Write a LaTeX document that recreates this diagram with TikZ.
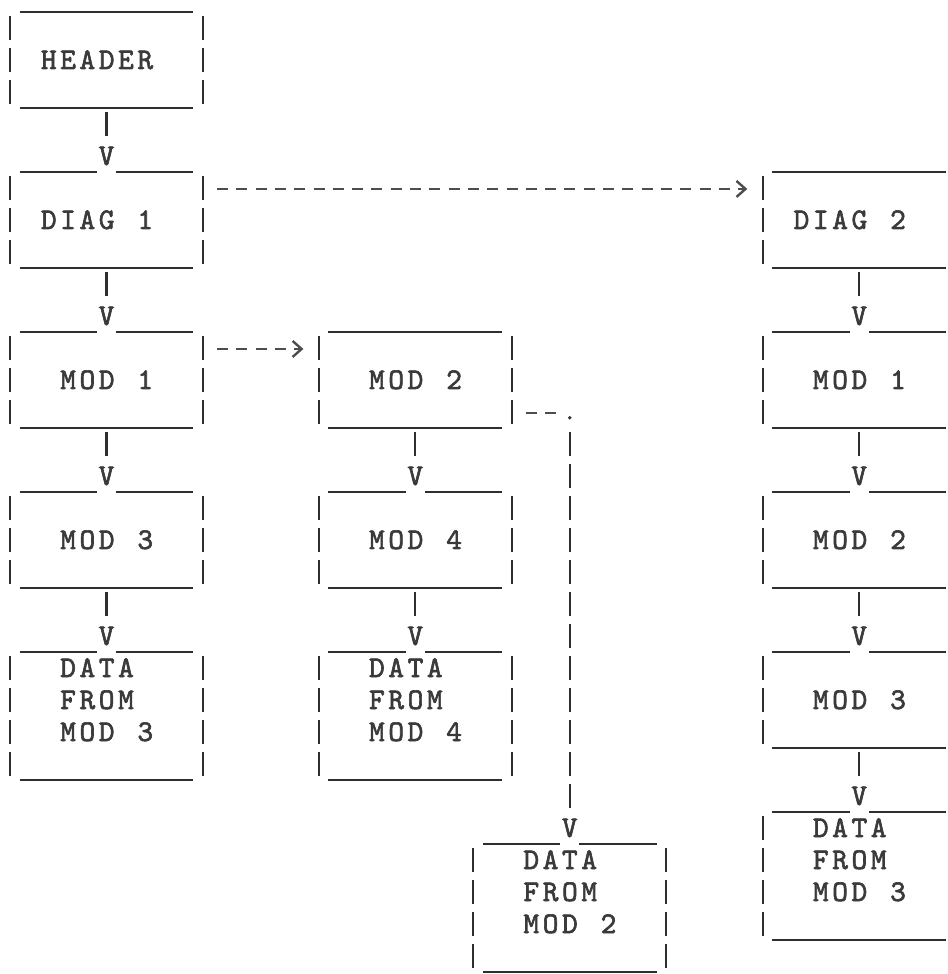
\documentclass[tikz,border=0pt]{standalone}
\usepackage{fontspec}
\newfontfamily\twf{lmmono10-regular.otf}[FakeBold=2]
\usetikzlibrary{arrows.meta}
\definecolor{ink}{HTML}{2E2E2E}
\definecolor{txtink}{HTML}{3A3A3A}
\newlength\twpitch \setlength\twpitch{19.3pt}
\makeatletter
\newcommand\twstr[1]{\twloop#1\@nil}
\def\twloop#1{\ifx#1\@nil\else\makebox[\twpitch][c]{#1}\expandafter\twloop\fi}
\makeatother
\tikzset{
  uline/.style={draw=ink, line width=2.4pt},
  vbar/.style={draw=ink, line width=2.2pt},
  twt/.style={inner sep=0pt, anchor=base west, text=txtink, font=\twf\fontsize{30}{32}\selectfont},
  twv/.style={inner sep=0pt, anchor=base, text=txtink, font=\twf\fontsize{30}{32}\selectfont},
  hdash/.style={draw=ink!85, line width=2.4pt, dash pattern=on 11pt off 8.3pt},
  vdash/.style={draw=ink, line width=2.2pt, dash pattern=on 24pt off 8pt},
  chev/.style={-{Straight Barb[length=9pt,width=16pt]}},
  vconn/.style={vbar, shorten <=4pt, shorten >=10.7pt}
}
% #1 name, #2 left col, #3 right col, #4 top line, #5 bar lines, #6 gap col (0 = none)
\newcommand\twbox[6]{%
  \coordinate (#1-bot) at ({(#2+#3)/2},{#4+#5+0.5});
  \ifnum#6>0
    \draw[uline] ({#2+0.5},{#4+0.5}) -- ({#6-0.5},{#4+0.5});
    \draw[uline] ({#6+0.5},{#4+0.5}) -- ({#3-0.5},{#4+0.5});
  \else
    \draw[uline] ({#2+0.5},{#4+0.5}) -- ({#3-0.5},{#4+0.5});
  \fi
  \draw[uline] ({#2+0.5},{#4+#5+0.5}) -- ({#3-0.5},{#4+#5+0.5});
  \foreach \rr in {1,...,#5} {
    \draw[vbar] ({#2},{#4+\rr-0.375}) -- ({#2},{#4+\rr+0.375});
    \draw[vbar] ({#3},{#4+\rr-0.375}) -- ({#3},{#4+\rr+0.375});
  }%
}
\begin{document}
\begin{tikzpicture}[x=19.3pt,y=-32pt]
\useasboundingbox (-0.5181,0.125) rectangle (48.5992,30.5625);
\clip (-0.5181,0.125) rectangle (48.5992,30.5625);

% ---------- left column ----------
\twbox{hdrb}{0}{10}{0}{3}{0}
\node[twt] (hdr) at (1.5,2.281) {\twstr{HEADER}};
\node[twv] (v1) at (5,5.281) {V};
\draw[vconn] (hdrb-bot) -- (v1.north);

\twbox{d1b}{0}{10}{5}{3}{5}
\node[twt] (d1) at (1.5,7.281) {\twstr{DIAG~1}};
\node[twv] (v2) at (5,10.281) {V};
\draw[vconn] (d1b-bot) -- (v2.north);

\twbox{m1b}{0}{10}{10}{3}{5}
\node[twt] (m1) at (2.5,12.281) {\twstr{MOD~1}};
\node[twv] (v3) at (5,15.281) {V};
\draw[vconn] (m1b-bot) -- (v3.north);

\twbox{m3b}{0}{10}{15}{3}{5}
\node[twt] (m3) at (2.5,17.281) {\twstr{MOD~3}};
\node[twv] (v4) at (5,20.281) {V};
\draw[vconn] (m3b-bot) -- (v4.north);

\twbox{dm3b}{0}{10}{20}{4}{5}
\node[twt] (dm3a) at (2.5,21.281) {\twstr{DATA}};
\node[twt] (dm3b) at (2.5,22.281) {\twstr{FROM}};
\node[twt] (dm3c) at (2.5,23.281) {\twstr{MOD~3}};

% ---------- middle column ----------
\twbox{m2b}{16}{26}{10}{3}{0}
\node[twt] (m2) at (18.5,12.281) {\twstr{MOD~2}};
\node[twv] (v5) at (21,15.281) {V};
\draw[vconn] (m2b-bot) -- (v5.north);

\twbox{m4b}{16}{26}{15}{3}{21}
\node[twt] (m4) at (18.5,17.281) {\twstr{MOD~4}};
\node[twv] (v6) at (21,20.281) {V};
\draw[vconn] (m4b-bot) -- (v6.north);

\twbox{dm4b}{16}{26}{20}{4}{21}
\node[twt] (dm4a) at (18.5,21.281) {\twstr{DATA}};
\node[twt] (dm4b) at (18.5,22.281) {\twstr{FROM}};
\node[twt] (dm4c) at (18.5,23.281) {\twstr{MOD~4}};

\node[twv] (v7) at (29,26.281) {V};
\twbox{dm2b}{24}{34}{26}{4}{29}
\node[twt] (dm2a) at (26.5,27.281) {\twstr{DATA}};
\node[twt] (dm2b) at (26.5,28.281) {\twstr{FROM}};
\node[twt] (dm2c) at (26.5,29.281) {\twstr{MOD~2}};

% ---------- right column ----------
\twbox{d2b}{39}{49}{5}{3}{0}
\node[twt] (d2) at (40.5,7.281) {\twstr{DIAG~2}};
\node[twv] (v8) at (44,10.281) {V};
\draw[vconn] (d2b-bot) -- (v8.north);

\twbox{rm1b}{39}{49}{10}{3}{44}
\node[twt] (rm1) at (41.5,12.281) {\twstr{MOD~1}};
\node[twv] (v9) at (44,15.281) {V};
\draw[vconn] (rm1b-bot) -- (v9.north);

\twbox{rm2b}{39}{49}{15}{3}{44}
\node[twt] (rm2) at (41.5,17.281) {\twstr{MOD~2}};
\node[twv] (v10) at (44,20.281) {V};
\draw[vconn] (rm2b-bot) -- (v10.north);

\twbox{rm3b}{39}{49}{20}{3}{44}
\node[twt] (rm3) at (41.5,22.281) {\twstr{MOD~3}};
\node[twv] (v11) at (44,25.281) {V};
\draw[vconn] (rm3b-bot) -- (v11.north);

\twbox{rdb}{39}{49}{25}{4}{44}
\node[twt] (rda) at (41.5,26.281) {\twstr{DATA}};
\node[twt] (rdb2) at (41.5,27.281) {\twstr{FROM}};
\node[twt] (rdc) at (41.5,28.281) {\twstr{MOD~3}};

% ---------- dashed connectors ----------
\coordinate (d1e) at (10,6.03);
\coordinate (d2w) at (39,6.03);
\draw[hdash,chev,shorten <=14pt,shorten >=15.4pt] (d1e) -- (d2w);

\coordinate (m1e) at (10,11.03);
\coordinate (m2w) at (16,11.03);
\draw[hdash,chev,shorten <=14pt,shorten >=15.4pt] (m1e) -- (m2w);

\coordinate (m2e) at (26,13.03);
\coordinate (dotl) at (29,13.03);
\node[circle,fill=ink,inner sep=0pt,minimum size=3.8pt] (dot) at (29,13.18) {};
\draw[hdash,shorten <=14pt,shorten >=14pt] (m2e) -- (dotl);
\draw[vdash,shorten <=14.2pt,shorten >=10.7pt] (dot.center) -- (v7.north);
\end{tikzpicture}
\end{document}
